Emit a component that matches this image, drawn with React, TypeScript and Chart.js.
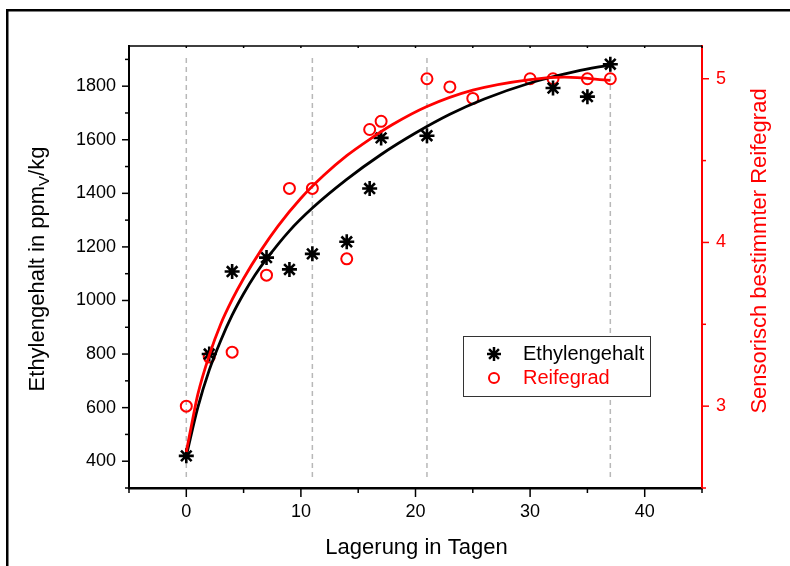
import React, { useEffect, useRef } from 'react';
import { Chart, registerables } from 'chart.js';

Chart.register(...registerables);

// ---- data ----
const storageDays = [0, 2, 4, 7, 9, 11, 14, 16, 17, 21, 32, 35, 37];
const ethyleneValues = [420, 800, 1108, 1160, 1116, 1174, 1219, 1418, 1607, 1615, 1793, 1761, 1882];

const ripenessDays = [0, 2, 4, 7, 9, 11, 14, 16, 17, 21, 23, 25, 30, 32, 35, 37];
const ripenessValues = [3.0, 3.3, 3.33, 3.8, 4.33, 4.33, 3.9, 4.69, 4.74, 5.0, 4.95, 4.88, 5.0, 5.0, 5.0, 5.0];

const ethyleneFitDays = [0, 1, 2, 3, 4, 5, 6, 7, 9, 11, 14, 17, 20, 23, 26, 30, 34, 37];
const ethyleneFitValues = [420, 600, 740, 850, 945, 1025, 1095, 1155, 1260, 1345, 1452, 1545, 1625, 1695, 1752, 1812, 1855, 1880];

const ripenessFitDays = [0, 0.5, 1, 2, 3, 4, 5, 6.5, 8, 10, 12, 14, 16, 18, 21, 25, 30, 33, 37];
const ripenessFitValues = [2.72, 2.9, 3.07, 3.31, 3.5, 3.65, 3.78, 3.95, 4.1, 4.27, 4.41, 4.53, 4.63, 4.72, 4.83, 4.93, 4.995, 5.01, 4.99];

const markerLineDays = [0, 11, 21, 37];

const xTickValues = [0, 10, 20, 30, 40];
const xMinorTickValues = [-5, 5, 15, 25, 35, 45];
const yTickValues = [400, 600, 800, 1000, 1200, 1400, 1600, 1800];
const yMinorTickValues = [300, 500, 700, 900, 1100, 1300, 1500, 1700, 1900];
const y2TickValues = [3, 4, 5];
const y2MinorTickValues = [2.5, 3.5, 4.5];

const legendLabels = ['Ethylengehalt', 'Reifegrad'];

const FONT = '"Liberation Sans", Arial, Helvetica, sans-serif';
const RED = '#ff0000';

function drawStar(ctx: CanvasRenderingContext2D, cx: number, cy: number, r: number) {
  ctx.beginPath();
  for (let i = 0; i < 4; i++) {
    const a = (i * Math.PI) / 4;
    const dx = Math.sin(a) * r;
    const dy = Math.cos(a) * r;
    ctx.moveTo(cx - dx, cy - dy);
    ctx.lineTo(cx + dx, cy + dy);
  }
  ctx.stroke();
}

const decorPlugin = {
  id: 'decor',
  beforeDatasetsDraw(chart: any) {
    const { ctx, chartArea, scales } = chart;
    const x = scales.x;
    ctx.save();
    ctx.strokeStyle = '#b8b8b8';
    ctx.lineWidth = 1.5;
    ctx.setLineDash([5, 4]);
    markerLineDays.forEach((d) => {
      const px = x.getPixelForValue(d);
      ctx.beginPath();
      ctx.moveTo(px, chartArea.top + 12);
      ctx.lineTo(px, chartArea.bottom - 7);
      ctx.stroke();
    });
    ctx.restore();
  },
  afterDraw(chart: any) {
    const { ctx, chartArea, scales } = chart;
    const { left, right, top, bottom } = chartArea;
    const x = scales.x;
    const y = scales.y;
    const y2 = scales.y2;
    ctx.save();

    // top border
    ctx.fillStyle = '#000';
    ctx.fillRect(left, top - 0.75, right - left, 1.5);

    // ticks
    ctx.lineWidth = 1.5;
    ctx.strokeStyle = '#000';
    const vt = (vals: number[], len: number) => {
      vals.forEach((v) => {
        const px = x.getPixelForValue(v);
        ctx.beginPath();
        ctx.moveTo(px, bottom);
        ctx.lineTo(px, bottom + len);
        ctx.stroke();
        ctx.beginPath();
        ctx.moveTo(px, top);
        ctx.lineTo(px, top + 2);
        ctx.stroke();
      });
    };
    vt(xTickValues, 9);
    vt(xMinorTickValues, 5);
    const ht = (scale: any, vals: number[], len: number, x0: number, dir: number) => {
      vals.forEach((v) => {
        const py = scale.getPixelForValue(v);
        ctx.beginPath();
        ctx.moveTo(x0, py);
        ctx.lineTo(x0 + dir * len, py);
        ctx.stroke();
      });
    };
    ht(y, yTickValues, 7, left, -1);
    ht(y, yMinorTickValues, 4, left, -1);
    ctx.strokeStyle = RED;
    ht(y2, y2TickValues, 7, right, 1);
    ht(y2, y2MinorTickValues, 4, right, 1);

    // axis titles
    ctx.fillStyle = '#000';
    ctx.font = `22px ${FONT}`;
    ctx.textAlign = 'center';
    ctx.textBaseline = 'alphabetic';
    ctx.fillText('Lagerung in Tagen', (left + right) / 2 + 1, 554);

    // left title with subscript
    const t1 = 'Ethylengehalt in ppm';
    const sub = 'V';
    const t2 = '/kg';
    ctx.font = `22px ${FONT}`;
    const w1 = ctx.measureText(t1).width;
    const w3 = ctx.measureText(t2).width;
    ctx.font = `15px ${FONT}`;
    const w2 = ctx.measureText(sub).width;
    const total = w1 + w2 + w3;
    ctx.save();
    ctx.translate(44, (top + bottom) / 2 + 2);
    ctx.rotate(-Math.PI / 2);
    ctx.textAlign = 'left';
    let cx = -total / 2;
    ctx.font = `22px ${FONT}`;
    ctx.fillText(t1, cx, 0);
    cx += w1;
    ctx.font = `15px ${FONT}`;
    ctx.fillText(sub, cx, 5);
    cx += w2;
    ctx.font = `22px ${FONT}`;
    ctx.fillText(t2, cx, 0);
    ctx.restore();

    // right title
    ctx.save();
    ctx.fillStyle = RED;
    ctx.font = `22px ${FONT}`;
    ctx.translate(766, 251);
    ctx.rotate(-Math.PI / 2);
    ctx.textAlign = 'center';
    ctx.fillText('Sensorisch bestimmter Reifegrad', 0, 0);
    ctx.restore();

    // legend
    const lx = 463, ly = 336, lw = 187, lh = 60;
    ctx.fillStyle = '#fff';
    ctx.fillRect(lx, ly, lw, lh);
    ctx.strokeStyle = '#333';
    ctx.lineWidth = 1;
    ctx.setLineDash([]);
    ctx.strokeRect(lx + 0.5, ly + 0.5, lw, lh);
    ctx.lineWidth = 2.5;
    ctx.strokeStyle = '#000';
    drawStar(ctx, lx + 31, ly + 18, 7);
    ctx.lineWidth = 2;
    ctx.strokeStyle = RED;
    ctx.beginPath();
    ctx.arc(lx + 31, ly + 42, 5, 0, Math.PI * 2);
    ctx.stroke();
    ctx.font = `20px ${FONT}`;
    ctx.textAlign = 'left';
    ctx.textBaseline = 'middle';
    ctx.fillStyle = '#000';
    ctx.fillText(legendLabels[0], lx + 60, ly + 18);
    ctx.fillStyle = RED;
    ctx.fillText(legendLabels[1], lx + 60, ly + 42);

    // outer frame
    ctx.fillStyle = '#000';
    ctx.fillRect(6, 9, 2.5, 600);
    ctx.fillRect(6, 9, 800, 2.5);
    ctx.restore();
  },
};

const plainLabel = (v: any) => String(v);

export default function App() {
  const canvasRef = useRef<HTMLCanvasElement | null>(null);

  useEffect(() => {
    const canvas = canvasRef.current;
    if (!canvas) return;
    const ethylenePoints = storageDays.map((d, i) => ({ x: d, y: ethyleneValues[i] }));
    const ripenessPoints = ripenessDays.map((d, i) => ({ x: d, y: ripenessValues[i] }));
    const ethyleneFit = ethyleneFitDays.map((d, i) => ({ x: d, y: ethyleneFitValues[i] }));
    const ripenessFit = ripenessFitDays.map((d, i) => ({ x: d, y: ripenessFitValues[i] }));

    const chart = new Chart(canvas, {
      type: 'scatter',
      data: {
        datasets: [
          {
            type: 'line',
            label: 'Reifegrad fit',
            data: ripenessFit,
            yAxisID: 'y2',
            borderColor: RED,
            borderWidth: 2.8,
            pointRadius: 0,
            cubicInterpolationMode: 'monotone',
            fill: false,
            order: 0,
          },
          {
            type: 'line',
            label: 'Ethylengehalt fit',
            data: ethyleneFit,
            yAxisID: 'y',
            borderColor: '#000',
            borderWidth: 2.8,
            pointRadius: 0,
            cubicInterpolationMode: 'monotone',
            fill: false,
            order: 1,
          },
          {
            label: legendLabels[0],
            data: ethylenePoints,
            yAxisID: 'y',
            pointStyle: 'star',
            pointRadius: 7.5,
            borderColor: '#000',
            backgroundColor: '#000',
            pointBorderWidth: 2.6,
            showLine: false,
            order: 2,
          },
          {
            label: legendLabels[1],
            data: ripenessPoints,
            yAxisID: 'y2',
            pointStyle: 'circle',
            pointRadius: 5.5,
            borderColor: RED,
            backgroundColor: 'rgba(0,0,0,0)',
            pointBorderWidth: 2,
            showLine: false,
            order: 3,
          },
        ],
      } as any,
      options: {
        animation: false,
        responsive: false,
        events: [],
        layout: { padding: { top: 46, left: 0, right: 0, bottom: 0 } },
        plugins: { legend: { display: false }, tooltip: { enabled: false } },
        scales: {
          x: {
            type: 'linear',
            position: 'bottom',
            min: -5,
            max: 45,
            afterFit: (s: any) => { s.height = 78; },
            afterBuildTicks: (s: any) => { s.ticks = xTickValues.map((v) => ({ value: v })); },
            grid: { display: true, drawOnChartArea: false, drawTicks: false },
            border: { display: true, color: '#000', width: 2.5 },
            ticks: { color: '#000', font: { family: FONT, size: 18 }, padding: 13, maxRotation: 0, callback: plainLabel },
          },
          y: {
            type: 'linear',
            position: 'left',
            min: 300,
            max: 1950,
            afterFit: (s: any) => { s.width = 129; },
            afterBuildTicks: (s: any) => { s.ticks = yTickValues.map((v) => ({ value: v })); },
            grid: { display: true, drawOnChartArea: false, drawTicks: false },
            border: { display: true, color: '#000', width: 2 },
            ticks: { color: '#000', font: { family: FONT, size: 18 }, padding: 13, callback: plainLabel },
          },
          y2: {
            type: 'linear',
            position: 'right',
            min: 2.5,
            max: 5.2,
            afterFit: (s: any) => { s.width = 88; },
            afterBuildTicks: (s: any) => { s.ticks = y2TickValues.map((v) => ({ value: v })); },
            grid: { display: true, drawOnChartArea: false, drawTicks: false },
            border: { display: true, color: RED, width: 2 },
            ticks: { color: RED, font: { family: FONT, size: 18 }, padding: 14, callback: plainLabel },
          },
        },
      } as any,
      plugins: [decorPlugin],
    });
    return () => chart.destroy();
  }, []);

  return (
    <div style={{ position: 'absolute', left: 0, top: 0, width: 790, height: 566, background: '#fff', overflow: 'hidden' }}>
      <canvas ref={canvasRef} width={790} height={566} style={{ display: 'block', width: 790, height: 566 }} />
    </div>
  );
}
